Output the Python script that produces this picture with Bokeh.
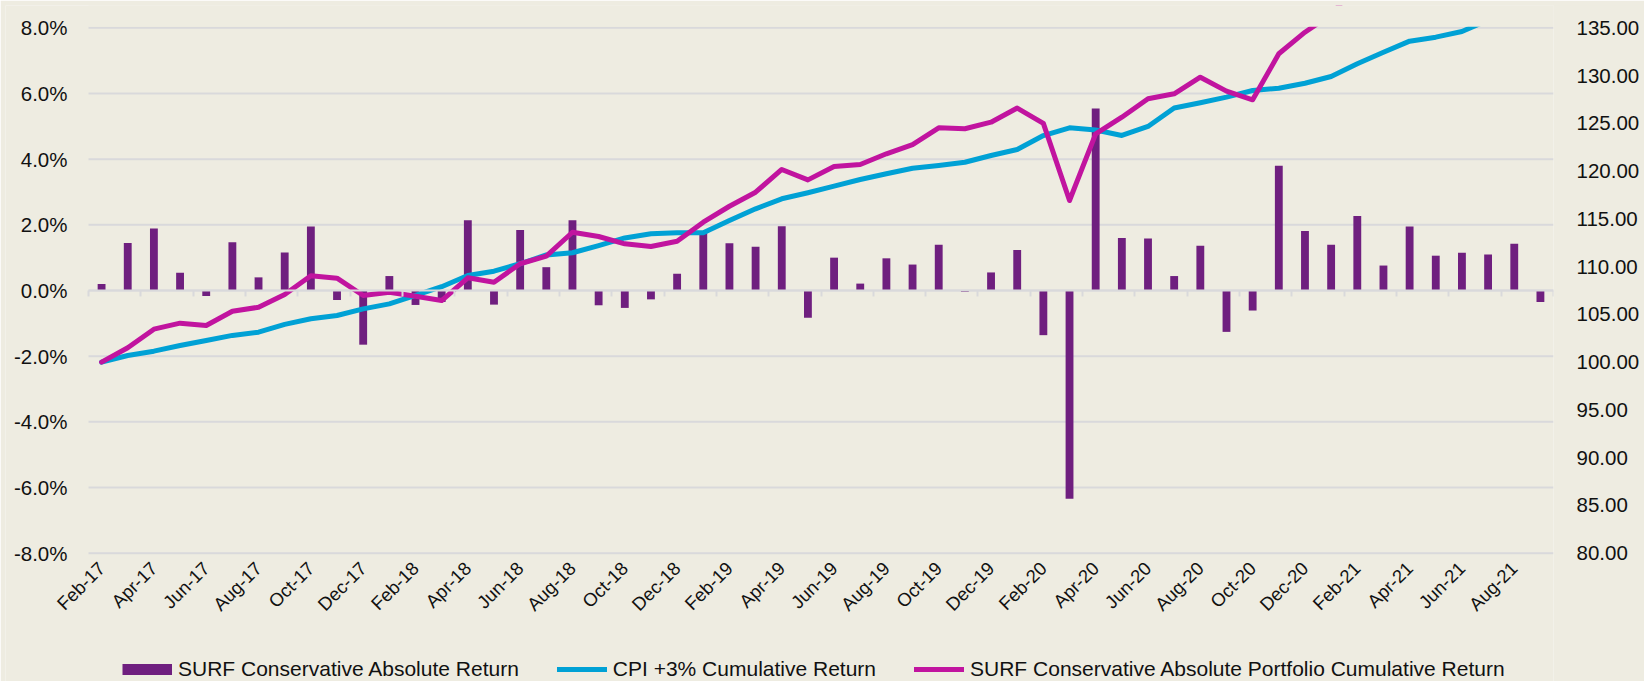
import math
from bokeh.plotting import figure
from bokeh.models import (Range1d, LinearAxis, FixedTicker, PrintfTickFormatter, BoxAnnotation,
                          CustomJSTickFormatter, Legend, LegendItem, ColumnDataSource)
from bokeh.embed import file_html
from bokeh.resources import INLINE

months = ["Feb-17", "Mar-17", "Apr-17", "May-17", "Jun-17", "Jul-17", "Aug-17", "Sep-17",
          "Oct-17", "Nov-17", "Dec-17", "Jan-18", "Feb-18", "Mar-18", "Apr-18", "May-18",
          "Jun-18", "Jul-18", "Aug-18", "Sep-18", "Oct-18", "Nov-18", "Dec-18", "Jan-19",
          "Feb-19", "Mar-19", "Apr-19", "May-19", "Jun-19", "Jul-19", "Aug-19", "Sep-19",
          "Oct-19", "Nov-19", "Dec-19", "Jan-20", "Feb-20", "Mar-20", "Apr-20", "May-20",
          "Jun-20", "Jul-20", "Aug-20", "Sep-20", "Oct-20", "Nov-20", "Dec-20", "Jan-21",
          "Feb-21", "Mar-21", "Apr-21", "May-21", "Jun-21", "Jul-21", "Aug-21", "Sep-21"]

# SURF Conservative Absolute Return (monthly, %)
monthly_return = [0.20, 1.45, 1.89, 0.54, -0.17, 1.47, 0.40, 1.16,
                  1.95, -0.29, -1.65, 0.44, -0.44, -0.35, 2.14, -0.43,
                  1.84, 0.71, 2.14, -0.45, -0.53, -0.27, 0.51, 1.75,
                  1.44, 1.33, 1.96, -0.83, 1.00, 0.21, 0.98, 0.79,
                  1.39, -0.04, 0.55, 1.23, -1.36, -6.34, 5.54, 1.60,
                  1.58, 0.44, 1.36, -1.26, -0.61, 3.80, 1.81, 1.39,
                  2.27, 0.76, 1.95, 1.06, 1.15, 1.10, 1.42, -0.35]

# CPI +3% Cumulative Return (index)
cpi_cumulative = [100.00, 100.70, 101.15, 101.74, 102.27, 102.80, 103.14, 103.95,
                  104.54, 104.88, 105.58, 106.10, 106.98, 107.90, 109.07, 109.52,
                  110.30, 111.22, 111.45, 112.20, 113.00, 113.44, 113.54, 113.54,
                  114.83, 116.05, 117.10, 117.73, 118.42, 119.12, 119.72, 120.30,
                  120.59, 120.93, 121.63, 122.26, 123.72, 124.53, 124.30, 123.73,
                  124.67, 126.60, 127.15, 127.74, 128.44, 128.68, 129.20, 129.90,
                  131.23, 132.45, 133.60, 134.02, 134.61, 135.80, 136.40, 137.00]

# SURF Conservative Absolute Portfolio Cumulative Return (index)
portfolio_cumulative = [100.00, 101.50, 103.45, 104.08, 103.84, 105.33, 105.75, 107.08,
                        109.04, 108.79, 106.98, 107.32, 106.90, 106.45, 108.83, 108.37,
                        110.30, 111.10, 113.60, 113.15, 112.39, 112.10, 112.66, 114.65,
                        116.32, 117.79, 120.17, 119.08, 120.48, 120.69, 121.81, 122.78,
                        124.53, 124.43, 125.12, 126.60, 124.99, 116.92, 123.90, 125.64,
                        127.57, 128.09, 129.83, 128.37, 127.46, 132.28, 134.54, 136.40,
                        139.50, 140.50, 143.30, 144.80, 146.50, 148.10, 150.20, 149.70]

left_ticks = [-8, -6, -4, -2, 0, 2, 4, 6, 8]
right_ticks = [80, 85, 90, 95, 100, 105, 110, 115, 120, 125, 130, 135]
series_names = ["SURF Conservative Absolute Return",
                "CPI +3% Cumulative Return",
                "SURF Conservative Absolute Portfolio Cumulative Return"]

BG = "#EEECE1"
GRID = "#D9D9DB"
PURPLE = "#6F1F7F"
CYAN = "#00A1D5"
MAGENTA = "#C1149F"
TEXT = "#111111"
FONT = "Liberation Sans"

# layout (page pixels): plot area, and a larger Bokeh frame that also holds the
# tick labels and the legend
PLOT_LEFT, PLOT_W = 88, 1465
PLOT_TOP, PLOT_BOTTOM = 27.3, 552.7
FRAME_LEFT, FRAME_TOP, FRAME_BOTTOM = 5, 5, 681

n = len(months)
idx = list(range(n))
frame_w = PLOT_W + PLOT_LEFT - FRAME_LEFT
frame_h = FRAME_BOTTOM - FRAME_TOP
x_ext = (PLOT_LEFT - FRAME_LEFT) * n / PLOT_W
plot_h = PLOT_BOTTOM - PLOT_TOP
lu = (left_ticks[-1] - left_ticks[0]) / plot_h
ru = (right_ticks[-1] - right_ticks[0]) / plot_h
left_hi = left_ticks[-1] + (PLOT_TOP - FRAME_TOP) * lu
left_lo = left_ticks[0] - (FRAME_BOTTOM - PLOT_BOTTOM) * lu
right_hi = right_ticks[-1] + (PLOT_TOP - FRAME_TOP) * ru
right_lo = right_ticks[0] - (FRAME_BOTTOM - PLOT_BOTTOM) * ru

src = ColumnDataSource(dict(x=idx, ret=monthly_return, cpi=cpi_cumulative, port=portfolio_cumulative))

p = figure(frame_width=frame_w, frame_height=frame_h,
           x_range=Range1d(-0.5 - x_ext, n - 0.5), y_range=Range1d(left_lo, left_hi),
           output_backend="svg", toolbar_location=None,
           min_border_left=FRAME_LEFT, min_border_right=1644 - FRAME_LEFT - frame_w,
           min_border_top=FRAME_TOP, min_border_bottom=0,
           background_fill_color=BG, border_fill_color=BG, outline_line_color=None)
p.extra_y_ranges = {"right": Range1d(right_lo, right_hi)}

# horizontal gridlines across the plot area only
grid_src = ColumnDataSource(dict(x0=[-0.5] * len(left_ticks), x1=[n - 0.5] * len(left_ticks),
                                 y=left_ticks))
p.segment(x0="x0", x1="x1", y0="y", y1="y", line_color=GRID, line_width=2,
          level="underlay", source=grid_src)

bars = p.vbar(x="x", top="ret", bottom=0, width=0.3, fill_color=PURPLE, line_color=None, source=src)
cpi_line = p.line("x", "cpi", y_range_name="right", line_width=5, line_color=CYAN,
                  line_join="round", line_cap="round", source=src)
port_line = p.line("x", "port", y_range_name="right", line_width=5, line_color=MAGENTA,
                   line_join="round", line_cap="round", source=src)
# legend swatch for the bars (draws nothing in the plot)
bar_swatch = p.line(x=[float("nan")], y=[float("nan")], line_width=11, line_color=PURPLE,
                    line_cap="butt")

# the plot area ends at its top: hide anything drawn above it
p.add_layout(BoxAnnotation(left=-0.5, right=n + 10, bottom=left_ticks[-1] + 1.0 * lu,
                           top=left_hi + 10, fill_color=BG, fill_alpha=1.0, line_alpha=0))

# category labels, along the bottom of the plot area (-8%)
xa = p.xaxis[0]
xa.fixed_location = left_ticks[0]
xa.ticker = FixedTicker(ticks=idx[::2], minor_ticks=[])
xa.major_label_overrides = {i: months[i] for i in idx[::2]}
xa.major_label_orientation = math.pi / 4
xa.axis_line_color = None
xa.major_tick_line_color = None
xa.minor_tick_line_color = None
xa.major_label_standoff = 6
xa.major_label_text_font = FONT
xa.major_label_text_font_size = "18.5px"
xa.major_label_text_color = TEXT

# left axis, at the left edge of the plot area
ya = p.yaxis[0]
ya.fixed_location = -0.5
ya.ticker = FixedTicker(ticks=left_ticks, minor_ticks=[])
ya.formatter = PrintfTickFormatter(format="%.1f%%")
ya.axis_line_color = None
ya.major_tick_line_color = None
ya.minor_tick_line_color = None
ya.major_label_standoff = 15
ya.major_label_text_font = FONT
ya.major_label_text_font_size = "20.5px"
ya.major_label_text_color = TEXT

# right axis
ra = LinearAxis(y_range_name="right", ticker=FixedTicker(ticks=right_ticks, minor_ticks=[]),
                formatter=PrintfTickFormatter(format="%.2f"))
ra.axis_line_color = None
ra.major_tick_line_color = None
ra.minor_tick_line_color = None
ra.major_label_standoff = 17
ra.major_label_text_font = FONT
ra.major_label_text_font_size = "20.5px"
ra.major_label_text_color = TEXT
p.add_layout(ra, "right")

# category axis line at zero with boundary ticks
zero_axis = LinearAxis(fixed_location=0, bounds=(-0.5, n - 0.5),
                       ticker=FixedTicker(ticks=[i - 0.5 for i in range(0, n + 1, 2)], minor_ticks=[]),
                       formatter=CustomJSTickFormatter(code="return ''"))
zero_axis.axis_line_color = GRID
zero_axis.axis_line_width = 2
zero_axis.major_tick_line_color = GRID
zero_axis.major_tick_line_width = 2
zero_axis.major_tick_in = 0
zero_axis.major_tick_out = 6
zero_axis.minor_tick_line_color = None
p.add_layout(zero_axis, "below")

p.xgrid.visible = False
p.ygrid.visible = False

legend = Legend(items=[LegendItem(label=series_names[0], renderers=[bar_swatch]),
                       LegendItem(label=series_names[1], renderers=[cpi_line]),
                       LegendItem(label=series_names[2], renderers=[port_line])],
                orientation="horizontal", location=(122 - FRAME_LEFT, 0),
                glyph_width=50, glyph_height=14, label_standoff=6, spacing=38,
                padding=0, margin=0, background_fill_alpha=0, border_line_alpha=0,
                label_text_font=FONT, label_text_font_size="21px", label_text_color=TEXT)
p.add_layout(legend, "center")

html = file_html(p, INLINE)
html = html.replace("<body>", '<body style="background-color:#EEECE1;">', 1)
open("out.html", "w").write(html)
